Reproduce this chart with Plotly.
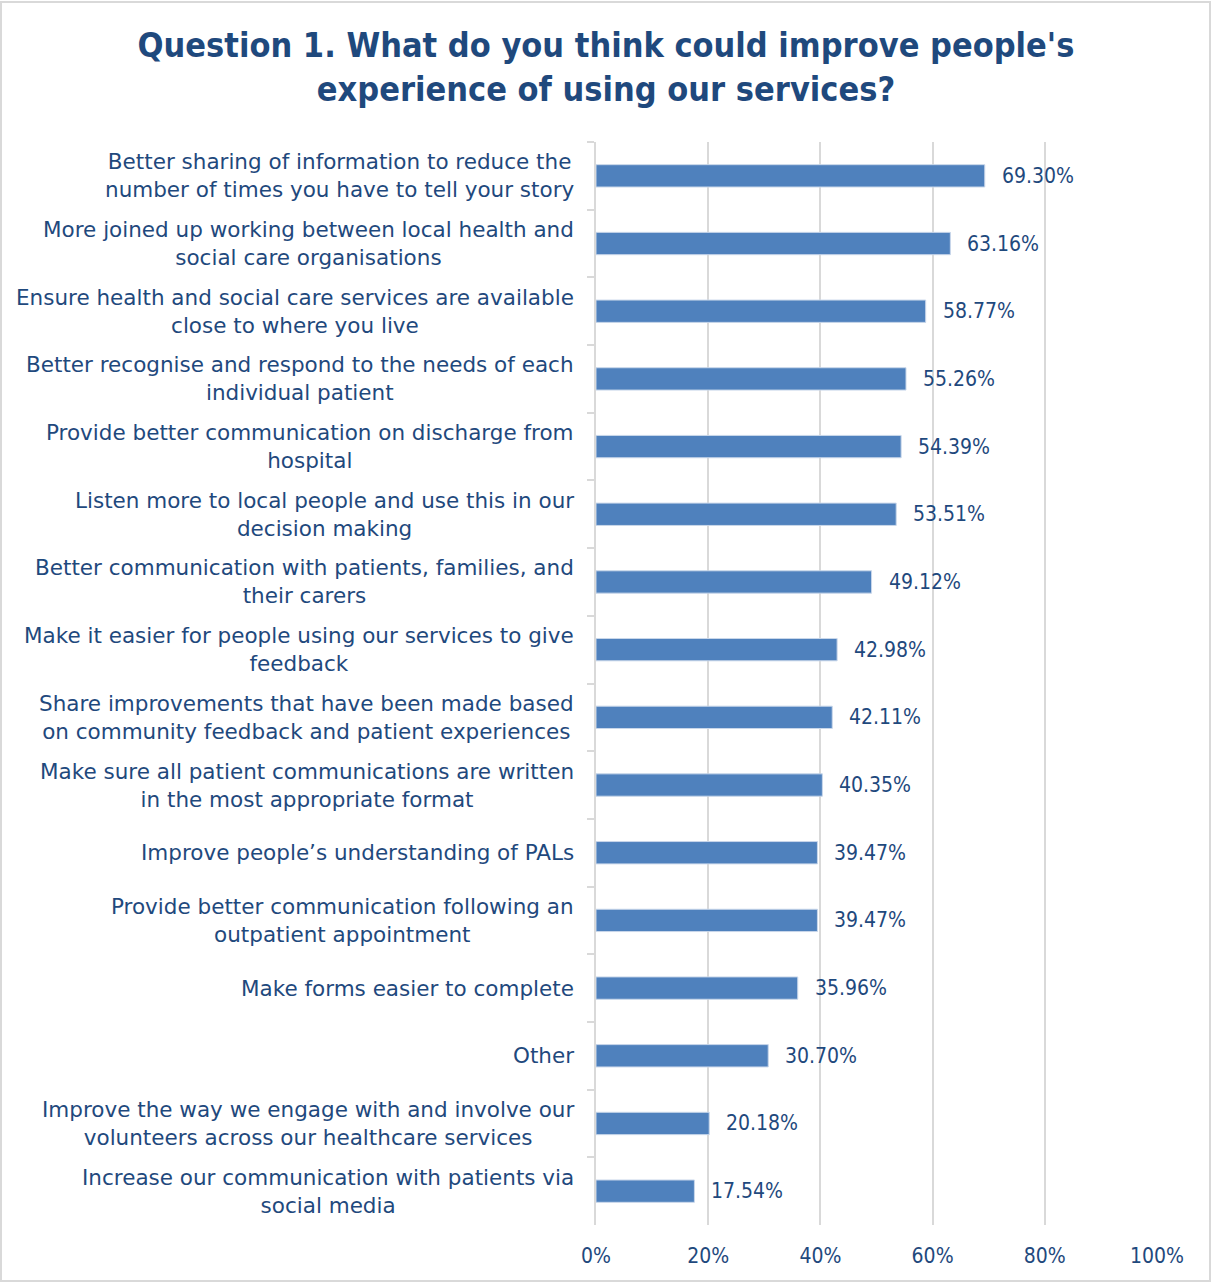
import plotly.graph_objects as go

categories = [
    "Better sharing of information to reduce the<br>number of times you have to tell your story",
    "More joined up working between local health and<br>social care organisations",
    "Ensure health and social care services are available<br>close to where you live",
    "Better recognise and respond to the needs of each<br>individual patient",
    "Provide better communication on discharge from<br>hospital",
    "Listen more to local people and use this in our<br>decision making",
    "Better communication with patients, families, and<br>their carers",
    "Make it easier for people using our services to give<br>feedback",
    "Share improvements that have been made based<br>on community feedback and patient experiences",
    "Make sure all patient communications are written<br>in the most appropriate format",
    "Improve people’s understanding of PALs",
    "Provide better communication following an<br>outpatient appointment",
    "Make forms easier to complete",
    "Other",
    "Improve the way we engage with and involve our<br>volunteers across our healthcare services",
    "Increase our communication with patients via<br>social media",
]
values = [69.30, 63.16, 58.77, 55.26, 54.39, 53.51, 49.12, 42.98, 42.11, 40.35,
          39.47, 39.47, 35.96, 30.70, 20.18, 17.54]
tick_vals = [0, 20, 40, 60, 80, 100]
tick_text = ["0%", "20%", "40%", "60%", "80%", "100%"]
title_text = "Question 1. What do you think could improve people's<br>experience of using our services?"

FONT = "Tahoma, 'DejaVu Sans Condensed', 'DejaVu Sans', sans-serif"
LABEL_FONT = "Tahoma, 'DejaVu Sans', sans-serif"
NAVY = "#1F497D"
GRID = "#D9D9D9"

fig = go.Figure()
fig.add_trace(go.Bar(
    x=values, y=categories, orientation="h",
    marker=dict(color="#4F81BD", line=dict(color="#C9D7EA", width=1)),
    width=0.33, hoverinfo="skip",
))

annotations = []
for c, v in zip(categories, values):
    annotations.append(dict(
        x=v, y=c, xref="x", yref="y", text=f"{v:.2f}%", showarrow=False,
        xanchor="left", xshift=15, font=dict(family=FONT, size=21, color=NAVY)))
    annotations.append(dict(
        x=0, y=c, xref="paper", yref="y", text=c, showarrow=False,
        xanchor="right", align="center", xshift=-20,
        font=dict(family=LABEL_FONT, size=21.5, color=NAVY)))

fig.update_layout(
    width=1212, height=1283,
    margin=dict(l=596, r=55, t=142, b=58),
    paper_bgcolor="white", plot_bgcolor="white",
    showlegend=False,
    title=dict(text=title_text, x=0.5, xref="container", xanchor="center",
               y=1 - 57 / 1283, yanchor="middle",
               font=dict(family=FONT, size=34, color=NAVY, weight="bold")),
    annotations=annotations,
    xaxis=dict(range=[0, 100], tickvals=tick_vals, ticktext=tick_text,
               showgrid=True, gridcolor=GRID, gridwidth=2, zeroline=False,
               showline=False, ticks="", ticklabelstandoff=16,
               tickfont=dict(family=FONT, size=21, color=NAVY), fixedrange=True),
    yaxis=dict(categoryorder="array", categoryarray=categories, autorange="reversed",
               showticklabels=False, showline=True, linecolor=GRID, linewidth=2,
               ticks="outside", ticklen=7, tickcolor=GRID, tickwidth=2,
               tickson="boundaries", showgrid=False, zeroline=False, fixedrange=True),
    shapes=[dict(type="rect", xref="paper", yref="paper",
                 x0=(1 - 596) / 561, x1=(1210 - 596) / 561,
                 y0=(1225 - 1281) / 1083, y1=(1225 - 2) / 1083,
                 line=dict(color="#D9D9D9", width=2), layer="below")],
)

fig.write_html("out.html")
